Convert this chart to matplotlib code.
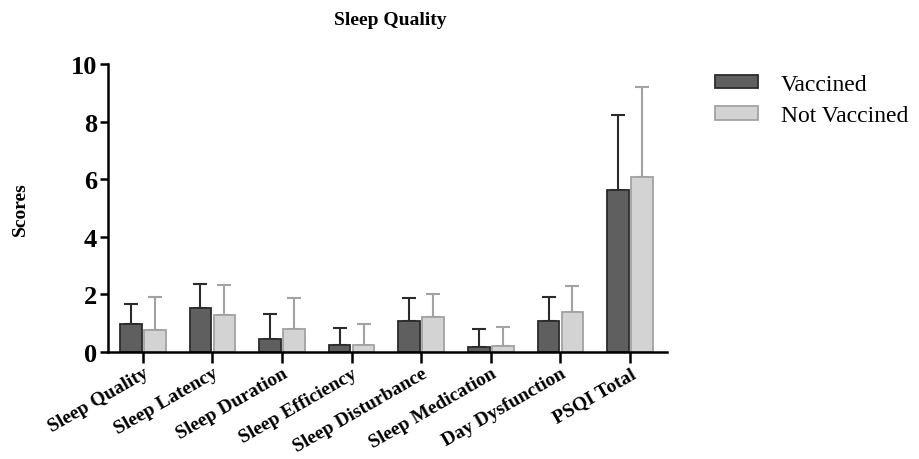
import numpy as np
import matplotlib
matplotlib.use('Agg')
import matplotlib.pyplot as plt

plt.rcParams['font.family'] = ['Liberation Serif', 'DejaVu Serif']

categories = ['Sleep Quality', 'Sleep Latency', 'Sleep Duration', 'Sleep Efficiency',
              'Sleep Disturbance', 'Sleep Medication', 'Day Dysfunction', 'PSQI Total']
vaccined = [0.97, 1.53, 0.44, 0.25, 1.08, 0.17, 1.08, 5.61]
vaccined_err = [0.71, 0.84, 0.89, 0.59, 0.78, 0.64, 0.82, 2.63]
not_vaccined = [0.77, 1.28, 0.79, 0.26, 1.23, 0.22, 1.39, 6.06]
not_vaccined_err = [1.14, 1.05, 1.08, 0.71, 0.78, 0.65, 0.90, 3.14]

x = np.arange(len(categories))
w = 0.31
off = 0.172

fig = plt.figure(figsize=(9.19, 4.6), dpi=100)
ax = fig.add_axes([0.1175, 0.2326, 0.6083, 0.6261])

ax.bar(x - off, vaccined, w, color='#5f5f5f', edgecolor='#2b2b2b', linewidth=1.3,
       label='Vaccined', zorder=2)
ax.bar(x + off, not_vaccined, w, color='#d3d3d3', edgecolor='#a2a2a2', linewidth=1.3,
       label='Not Vaccined', zorder=2)
ax.errorbar(x - off, vaccined, yerr=[np.zeros(len(x)), vaccined_err], fmt='none',
            ecolor='#2b2b2b', elinewidth=1.5, capsize=5, capthick=1.5, zorder=1)
ax.errorbar(x + off, not_vaccined, yerr=[np.zeros(len(x)), not_vaccined_err], fmt='none',
            ecolor='#a2a2a2', elinewidth=1.5, capsize=5, capthick=1.5, zorder=1)

ax.set_xlim(-0.5, 7.53)
ax.set_ylim(0, 10)
ax.set_yticks([0, 2, 4, 6, 8, 10])
ax.set_xticks(x)
ax.set_xticklabels(categories, rotation=30, ha='right', rotation_mode='anchor',
                   fontsize=14, fontweight='bold')
for t in ax.get_yticklabels():
    t.set_fontsize(19)
    t.set_fontweight('bold')

ax.spines['top'].set_visible(False)
ax.spines['right'].set_visible(False)
ax.spines['left'].set_linewidth(1.8)
ax.spines['bottom'].set_linewidth(1.8)
ax.tick_params(axis='y', length=6, width=1.8, pad=2)
ax.tick_params(axis='x', length=8, width=1.8, pad=1)

ax.set_ylabel('Scores', fontsize=14, fontweight='bold', labelpad=30)
fig.text(0.425, 0.955, 'Sleep Quality', ha='center', va='center', fontsize=14, fontweight='bold')

ax.legend(loc='upper left', bbox_to_anchor=(1.048, 1.04), frameon=False, fontsize=17,
          handlelength=1.8, handleheight=0.5, handletextpad=1.0, labelspacing=0.45)

plt.savefig('out.png', dpi=100)
